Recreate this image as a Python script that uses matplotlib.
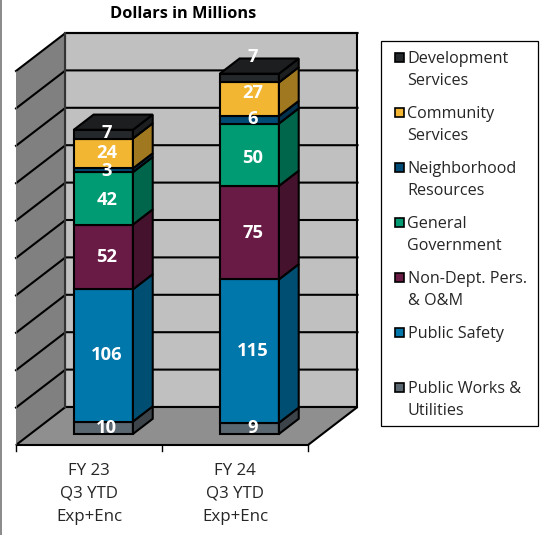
# recreate stacked 3D-look bar chart, drawn by hand on a flat axes
import matplotlib
matplotlib.use("Agg")
import matplotlib.pyplot as plt
from matplotlib.patches import Polygon, Rectangle

plt.rcParams['font.family'] = ['Open Sans', 'DejaVu Sans']

# === Data ===
categories = ["FY 23\nQ3 YTD\nExp+Enc", "FY 24\nQ3 YTD\nExp+Enc"]
series_names = ["Public Works &\nUtilities", "Public Safety", "Non-Dept. Pers.\n& O&M",
                "General\nGovernment", "Neighborhood\nResources",
                "Community\nServices", "Development\nServices"]
fy23_values = [10, 106, 52, 42, 3, 24, 7]
fy24_values = [9, 115, 75, 50, 6, 27, 7]
grid_values = [30, 60, 90, 120, 150, 180, 210, 240, 270, 300]

# === Colors (front, side) ===
front_colors = ["#5B6770", "#0077AA", "#6A1B45", "#009B72", "#004B75", "#F2B632", "#25282A"]
side_colors = ["#3C444A", "#004F72", "#45122D", "#00664B", "#00314D", "#9F7820", "#1C1E20"]
top_color = "#1C1E20"

# label tweaks in pixels, the original labels are not all centred on their segment
nudge23 = [0, 0, 0, -2, -1, 0, 1]
nudge24 = [0, 0, 0, -3, 1, 6, 21]

# === Scales ===
W, H = 542, 535
PX_X = 146.0    # pixels per category
PX_Y = 37.4 / 30  # pixels per dollar
X0, Y0 = 16, 445  # front-left corner of the floor
DEPTH_X = 49.5 / PX_X
DEPTH_Y = 38 / PX_Y
BAR_W = 0.405
D_FRONT, D_BACK = 0.29, 0.69
LW = 1.5

fig = plt.figure(figsize=(W / 100, H / 100), dpi=100)
ax = fig.add_axes([0, 0, 1, 1])
ax.set_xlim(-X0 / PX_X, (W - X0) / PX_X)
ax.set_ylim((Y0 - H) / PX_Y, Y0 / PX_Y)
ax.axis('off')


def pt(x, v, d=0):
    return (x + d * DEPTH_X, v + d * DEPTH_Y)


def poly(points, color, z=1, lw=LW):
    ax.add_patch(Polygon(points, closed=True, facecolor=color, edgecolor='black',
                         linewidth=lw, zorder=z, joinstyle='miter'))


n = len(categories)
top = grid_values[-1]

# === Walls and floor ===
poly([pt(0, 0, 1), pt(n, 0, 1), pt(n, top, 1), pt(0, top, 1)], "#C0C0C0")
poly([pt(0, 0), pt(0, 0, 1), pt(0, top, 1), pt(0, top)], "#808080", lw=0)
poly([pt(0, 0), pt(n, 0), pt(n, 0, 1), pt(0, 0, 1)], "#8F8F8F")

# === Gridlines ===
for v in grid_values:
    xs, ys = zip(pt(0, v), pt(0, v, 1), pt(n, v, 1))
    ax.plot(xs, ys, color='black', lw=LW, zorder=2, solid_joinstyle='miter')
ax.plot(*zip(pt(0, 0), pt(0, top)), color='#808080', lw=0.5, zorder=2)
ax.plot(*zip(pt(0, 0, 1), pt(0, top, 1)), color='#333333', lw=LW, zorder=2)

# === Ticks under the floor ===
for i in range(n + 1):
    ax.plot([i, i], [0, -6 / PX_Y], color='black', lw=1.0, zorder=2)
for i, cat in enumerate(categories):
    ax.text(i + 0.5, -49 / PX_Y, cat, ha='center', va='center', fontsize=12.2,
            color='#262626', linespacing=1.56)

# === Stacked bars ===
for i, (vals, nudges) in enumerate([(fy23_values, nudge23), (fy24_values, nudge24)]):
    xl = i + 0.5 - BAR_W / 2
    xr = i + 0.5 + BAR_W / 2
    base = 0
    for j, val in enumerate(vals):
        t = base + val
        poly([pt(xl, base, D_FRONT), pt(xr, base, D_FRONT), pt(xr, t, D_FRONT), pt(xl, t, D_FRONT)],
             front_colors[j], z=3)
        poly([pt(xr, base, D_FRONT), pt(xr, base, D_BACK), pt(xr, t, D_BACK), pt(xr, t, D_FRONT)],
             side_colors[j], z=3)
        base = t
    poly([pt(xl, base, D_FRONT), pt(xr, base, D_FRONT), pt(xr, base, D_BACK), pt(xl, base, D_BACK)],
         top_color, z=3)
    # value labels go on top of everything
    base = 0
    for j, val in enumerate(vals):
        ax.annotate(str(val), xy=pt(i + 0.5 + 3.5 / PX_X, base + val / 2, D_FRONT),
                    xytext=(0, nudges[j] * 0.72), textcoords='offset points',
                    ha='center', va='center', color='white', fontsize=13.2,
                    fontweight='bold', zorder=5)
        base += val

# === Title ===
fig.text(183 / W, 1 - 14.5 / H, "Dollars in Millions", ha='center', va='center',
         fontsize=11.8, fontweight='bold', color='black')

# === Left edge of the picture ===
fig.add_artist(Rectangle((0, 0), 1.5 / W, 1, transform=fig.transFigure, facecolor='#8C8C8C',
                         edgecolor='none'))

# === Legend box, drawn in pixels ===
leg = fig.add_axes([0, 0, 1, 1], facecolor='none')
leg.set_xlim(0, W)
leg.set_ylim(H, 0)
leg.axis('off')
leg.add_patch(Rectangle((381, 41), 157, 385, facecolor='white', edgecolor='black', linewidth=0.9))
for k, name in enumerate(series_names[::-1]):
    y = 57 + k * 55
    color = front_colors[::-1][k]
    leg.add_patch(Rectangle((394.5, y - 4.5), 9.5, 9.5, facecolor=color, edgecolor='black', linewidth=1.2))
    leg.text(407.5, y - 6, name, ha='left', va='top', fontsize=11.6, color='#262626', linespacing=1.47)

fig.savefig("out.png", dpi=100)
